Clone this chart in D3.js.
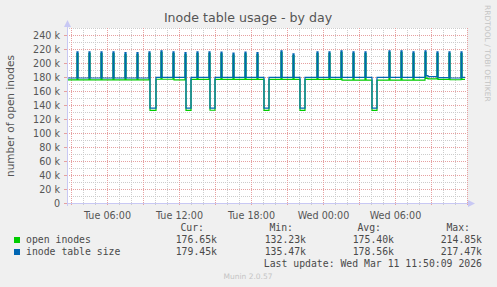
<!DOCTYPE html>
<html>
<head>
<meta charset="utf-8">
<script src="https://cdn.jsdelivr.net/npm/d3@7"></script>
<style>
body { margin: 0; background: #f0f0f0; }
svg { display: block; }
text { font-family: "DejaVu Sans", sans-serif; fill: #555; }
.mono { font-family: "DejaVu Sans Mono", monospace; font-size: 9.8px; fill: #4a4a4a; }
</style>
</head>
<body>
<svg width="497" height="287"></svg>
<script>
// sample times (March 2026, day + time); each value holds until the next time
var times = [
  "10 02:40",
  "10 03:30", "10 03:35", "10 04:30", "10 04:35", "10 05:30", "10 05:35",
  "10 06:30", "10 06:35", "10 07:30", "10 07:35", "10 08:30", "10 08:35",
  "10 09:30", "10 09:35", "10 10:05",
  "10 10:30", "10 10:35", "10 11:30", "10 11:35",
  "10 12:30", "10 12:35", "10 13:00",
  "10 13:30", "10 13:35",
  "10 14:30", "10 14:35", "10 15:00",
  "10 15:30", "10 15:35", "10 16:30", "10 16:35", "10 17:30", "10 17:35", "10 18:30", "10 18:35",
  "10 19:05", "10 19:30",
  "10 20:30", "10 20:35", "10 21:30", "10 21:35",
  "10 22:05", "10 22:30",
  "10 23:30", "10 23:35", "11 00:30", "11 00:35", "11 01:30", "11 01:35",
  "11 02:30", "11 02:35", "11 03:30", "11 03:35",
  "11 04:05", "11 04:30",
  "11 05:30", "11 05:35", "11 06:30", "11 06:35", "11 07:30", "11 07:35",
  "11 08:30", "11 08:35", "11 08:45",
  "11 09:30", "11 09:35", "11 10:30", "11 10:35", "11 11:30", "11 11:35",
  "11 11:50"
];
// thousands
var openInodes = [
  175.8,
  213.5, 175.8, 213.5, 175.8, 213.5, 175.8,
  213.5, 175.8, 212.1, 175.8, 212.1, 175.8,
  213.5, 132.3, 176.8,
  214.85, 176.8, 213.5, 176.0,
  212.1, 132.2, 176.5,
  213.5, 176.5,
  213.5, 132.5, 176.7,
  212.9, 176.7, 211.4, 176.7, 212.9, 176.7, 212.1, 176.7,
  132.4, 176.7,
  214.85, 176.7, 210.6, 176.7,
  132.3, 176.7,
  213.5, 176.7, 213.5, 176.7, 214.85, 175.4,
  213.5, 175.4, 213.5, 175.4,
  132.3, 175.4,
  214.85, 175.4, 214.85, 175.4, 213.5, 175.4,
  214.85, 178.0, 177.3,
  213.5, 176.7, 213.5, 176.1, 213.5, 176.65,
  176.65
];
var tableSize = [
  178.6,
  216.1, 178.6, 216.1, 178.6, 216.1, 178.6,
  216.1, 178.6, 214.7, 178.6, 214.7, 178.6,
  216.1, 135.5, 179.6,
  217.47, 179.6, 216.1, 179.4,
  214.7, 135.5, 179.4,
  216.1, 179.4,
  216.1, 135.6, 179.4,
  215.5, 179.4, 214.0, 179.4, 215.5, 179.4, 214.7, 179.4,
  135.5, 179.4,
  217.47, 179.4, 213.2, 179.4,
  135.5, 179.4,
  216.1, 179.4, 216.1, 179.4, 217.47, 179.4,
  216.1, 179.4, 216.1, 179.4,
  135.5, 179.4,
  217.47, 179.4, 217.47, 179.4, 216.1, 179.4,
  217.47, 182.0, 180.6,
  216.1, 179.0, 216.1, 178.6, 216.1, 179.45,
  179.45
];

var yTicks = [0, 20, 40, 60, 80, 100, 120, 140, 160, 180, 200, 220, 240];
var seriesNames = ["open inodes", "inode table size"];
var curVals = ["176.65k", "179.45k"];
var minVals = ["132.23k", "135.47k"];
var avgVals = ["175.40k", "178.56k"];
var maxVals = ["214.85k", "217.47k"];
var lastUpdate = "Last update: Wed Mar 11 11:50:09 2026";

var colors = ["#00cc00", "#0066b3"];

var svg = d3.select("svg"),
    margin = { top: 28, left: 67 },
    width = 400,
    height = 175;

var parseTime = d3.timeParse("%Y-%m-%d %H:%M");
function toDate(s) { return parseTime("2026-03-" + s); }

var x = d3.scaleTime()
    .domain([toDate("10 02:40"), toDate("11 12:00")])
    .range([0, width]);
var y = d3.scaleLinear().domain([0, 250]).range([height, 0]);

var g = svg.append("g")
    .attr("transform", "translate(" + margin.left + "," + margin.top + ")");

g.append("rect").attr("width", width).attr("height", height).attr("fill", "#fff");

// minor grid
var gx1 = g.append("g")
    .call(d3.axisBottom(x).ticks(d3.timeHour.every(1)).tickSize(height + 2).tickFormat(""));
var gy1 = g.append("g")
    .call(d3.axisLeft(y).tickValues(d3.range(10, 251, 20)).tickSize(-width).tickFormat(""));
// major grid
var gx2 = g.append("g")
    .call(d3.axisBottom(x).ticks(d3.timeHour.every(3)).tickSize(height + 3).tickFormat(""));
var gy2 = g.append("g")
    .call(d3.axisLeft(y).tickValues(yTicks.slice(1)).tickSize(-width).tickFormat(""));

[gx1, gy1, gx2, gy2].forEach(function (a) { a.select(".domain").remove(); });
gx1.selectAll("line").attr("stroke", "#cccccc").attr("stroke-dasharray", "1,1");
gy1.selectAll("line").attr("stroke", "#cccccc").attr("stroke-dasharray", "1,1");
gx2.selectAll("line").attr("stroke", "#e6a0a0").attr("stroke-dasharray", "1,1");
gy2.selectAll("line").attr("stroke", "#e6a0a0").attr("stroke-dasharray", "1,1");

// y tick labels
var yAxis = g.append("g")
    .call(d3.axisLeft(y).tickValues(yTicks).tickSize(3)
        .tickFormat(function (d) { return d ? d + " k" : "0"; }));
yAxis.select(".domain").remove();
yAxis.selectAll("line").attr("stroke", "#e6a0a0");
yAxis.selectAll("text").attr("x", -7).attr("fill", "#555")
    .style("font-size", "9.6px").style("font-family", "DejaVu Sans, sans-serif");

// x tick labels (every 6 hours, inside the plotted range)
var labelTicks = x.ticks(d3.timeHour.every(6)).filter(function (d) { return x(d) < width - 10; });
var xAxis = g.append("g")
    .attr("transform", "translate(0," + height + ")")
    .call(d3.axisBottom(x).tickValues(labelTicks).tickSize(0)
        .tickFormat(d3.timeFormat("%a %H:%M")));
xAxis.select(".domain").remove();
xAxis.selectAll("text").attr("y", 9).attr("fill", "#555")
    .style("font-size", "9.6px").style("font-family", "DejaVu Sans, sans-serif");

// lines
var data = times.map(function (t, i) {
    return { t: toDate(t), open: openInodes[i], size: tableSize[i] };
});
var lineOpen = d3.line().curve(d3.curveStepAfter)
    .x(function (d) { return x(d.t); })
    .y(function (d) { return y(d.open); });
var lineSize = d3.line().curve(d3.curveStepAfter)
    .x(function (d) { return x(d.t); })
    .y(function (d) { return y(d.size); });

g.append("path").datum(data).attr("fill", "none").attr("stroke", colors[0])
    .attr("stroke-width", 1.2).attr("d", lineOpen);
g.append("path").datum(data).attr("fill", "none").attr("stroke", colors[1])
    .attr("stroke-width", 1.2).attr("d", lineSize);

// axes with arrows
var axisCol = "#c8c8f4";
g.append("line").attr("x1", 0).attr("x2", width + 1).attr("y1", height + 0.5).attr("y2", height + 0.5)
    .attr("stroke", axisCol);
g.append("line").attr("x1", 0.5).attr("x2", 0.5).attr("y1", -1).attr("y2", height + 3)
    .attr("stroke", axisCol);
g.append("path").attr("d", "M" + (width + 1) + "," + (height - 3) + "L" + (width + 8) + "," + (height + 0.5) + "L" + (width + 1) + "," + (height + 4) + "Z")
    .attr("fill", axisCol);
g.append("path").attr("d", "M-3,-1L0.5,-8L4,-1Z").attr("fill", axisCol);

// title
svg.append("text").attr("x", 248).attr("y", 22).attr("text-anchor", "middle")
    .style("font-size", "12.6px").text("Inode table usage - by day");

// y label
svg.append("text").attr("transform", "translate(14,116) rotate(-90)").attr("text-anchor", "middle")
    .style("font-size", "10.5px").text("number of open inodes");

// watermark
svg.append("text").attr("transform", "translate(485,5) rotate(90)")
    .style("font-size", "7.5px").style("fill", "#c4c4c4")
    .text("RRDTOOL / TOBI OETIKER");

// legend
var heads = [["Cur:", 204], ["Min:", 293], ["Avg:", 381], ["Max:", 470]];
heads.forEach(function (h) {
    svg.append("text").attr("class", "mono").attr("x", h[1]).attr("y", 231)
        .attr("text-anchor", "end").text(h[0]);
});
seriesNames.forEach(function (name, i) {
    var yy = 243 + i * 12;
    svg.append("rect").attr("x", 14).attr("y", yy - 6).attr("width", 6).attr("height", 6)
        .attr("fill", colors[i]);
    svg.append("text").attr("class", "mono").attr("x", 26).attr("y", yy).text(name);
    [[curVals, 217], [minVals, 306], [avgVals, 394], [maxVals, 482]].forEach(function (c) {
        svg.append("text").attr("class", "mono").attr("x", c[1]).attr("y", yy)
            .attr("text-anchor", "end").text(c[0][i]);
    });
});
svg.append("text").attr("class", "mono").attr("x", 482).attr("y", 267)
    .attr("text-anchor", "end").text(lastUpdate);

svg.append("text").attr("x", 248).attr("y", 279).attr("text-anchor", "middle")
    .style("font-size", "7.5px").style("fill", "#c4c4c4").text("Munin 2.0.57");
</script>
</body>
</html>
